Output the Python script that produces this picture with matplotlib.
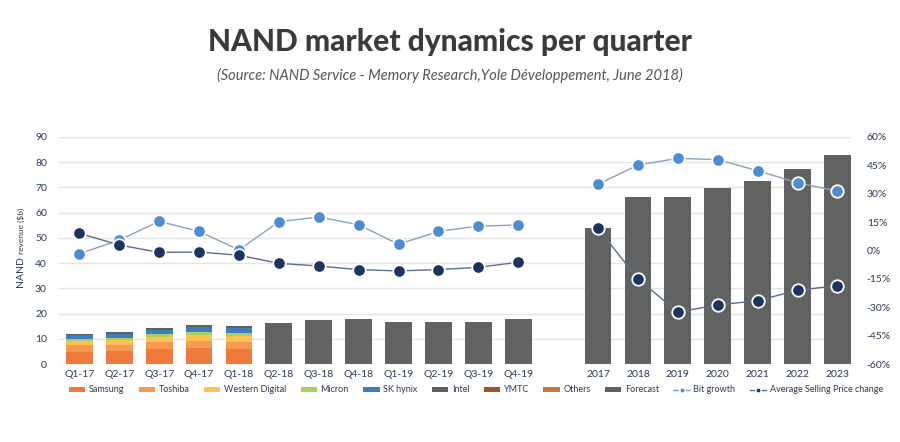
import matplotlib
matplotlib.use('Agg')
import matplotlib.pyplot as plt
import numpy as np
from matplotlib.lines import Line2D
from matplotlib.patches import Patch

# ---------------- data ----------------
quarters = ['Q1-17', 'Q2-17', 'Q3-17', 'Q4-17', 'Q1-18', 'Q2-18', 'Q3-18',
            'Q4-18', 'Q1-19', 'Q2-19', 'Q3-19', 'Q4-19']
years = ['2017', '2018', '2019', '2020', '2021', '2022', '2023']

# actual quarters (Q1-17 .. Q1-18), stacked by supplier ($b)
samsung = [4.9, 5.2, 5.8, 6.3, 6.0]
toshiba = [2.5, 2.5, 2.8, 3.0, 2.9]
western_digital = [1.7, 1.8, 2.0, 2.2, 2.1]
micron = [0.9, 1.0, 1.2, 1.3, 1.4]
sk_hynix = [1.3, 1.4, 1.7, 1.8, 1.7]
intel = [0.5, 0.6, 0.7, 0.9, 0.9]
ymtc = [0.0, 0.0, 0.0, 0.0, 0.0]
others = [0.1, 0.1, 0.1, 0.1, 0.1]

# forecast revenue ($b)
forecast_quarters = [16.3, 17.5, 17.9, 16.7, 16.6, 16.8, 17.7]   # Q2-18 .. Q4-19
forecast_years = [53.8, 66.3, 66.3, 69.6, 72.6, 77.5, 82.7]      # 2017 .. 2023

# growth rates (%)
bit_growth_q = [-1.7, 5.5, 15.4, 10.1, 0.3, 15.2, 17.7, 13.6, 3.3, 10.1, 12.9, 13.5]
asp_change_q = [9.1, 2.9, -1.0, -0.8, -2.5, -6.8, -8.2, -10.1, -10.8, -10.1, -8.9, -6.2]
bit_growth_y = [35.0, 45.2, 48.7, 48.0, 42.2, 35.8, 31.4]
asp_change_y = [11.7, -15.1, -32.5, -28.8, -26.5, -21.0, -18.6]

supplier_names = ['Samsung', 'Toshiba', 'Western Digital', 'Micron', 'SK hynix',
                  'Intel', 'YMTC', 'Others']
supplier_colors = ['#EF7A3C', '#F49A52', '#FDC250', '#A9CF5F', '#3F7DC1',
                   '#5F5F5F', '#A4532B', '#C87B30']
forecast_color = '#616262'
bit_color = '#4A8FD4'
asp_color = '#1C3461'
text_color = '#2B3A55'

# ---------------- layout ----------------
plt.rcParams['font.family'] = ['Lato', 'DejaVu Sans']
fig = plt.figure(figsize=(9, 4.42), dpi=100)
W, H = 900, 442
ax = fig.add_axes([59.4 / W, 78 / H, 792 / W, 227 / H])

n_q = len(quarters)
x_q = np.arange(n_q)
x_y = np.arange(len(years)) + n_q + 1
labels = quarters + [''] + years
x_all = np.arange(len(labels))

bw = 0.67
n_act = len(samsung)
stacks = [samsung, toshiba, western_digital, micron, sk_hynix, intel, ymtc, others]
bottom = np.zeros(n_act)
for vals, col in zip(stacks, supplier_colors):
    ax.bar(x_q[:n_act], vals, bw, bottom=bottom, color=col, zorder=2, linewidth=0)
    bottom += np.array(vals)
ax.bar(x_q[n_act:], forecast_quarters, bw, color=forecast_color, zorder=2, linewidth=0)
ax.bar(x_y, forecast_years, bw, color=forecast_color, zorder=2, linewidth=0)

ax.set_xlim(-0.5, 19.35)
ax.set_ylim(0, 90)
ax.set_yticks(np.arange(0, 91, 10))
ax.set_xticks(x_all)
ax.set_xticklabels(labels)
ax.grid(axis='y', color='#E4E4E4', linewidth=1, zorder=0)
ax.set_axisbelow(True)
for s in ax.spines.values():
    s.set_visible(False)
ax.tick_params(axis='both', length=0, colors=text_color, labelsize=7.5)
ax.tick_params(axis='y', pad=9)
ax.tick_params(axis='x', pad=4)

ax2 = ax.twinx()
ax2.set_ylim(-60, 60)
ax2.set_yticks(np.arange(-60, 61, 15))
ax2.set_yticklabels([f'{v}%' for v in range(-60, 61, 15)])
for s in ax2.spines.values():
    s.set_visible(False)
ax2.tick_params(axis='y', length=0, colors=text_color, labelsize=7.5, pad=11)

bit_all = bit_growth_q + [np.nan] + bit_growth_y
asp_all = asp_change_q + [np.nan] + asp_change_y
ax2.plot(x_all, bit_all, color='#8AA1C0', linewidth=1, zorder=3)
ax2.plot(x_all, asp_all, color='#5A6D8A', linewidth=1, zorder=3)
ax2.plot(x_all, bit_all, linestyle='none', marker='o', markersize=9,
         markerfacecolor=bit_color, markeredgecolor='white', markeredgewidth=1.3, zorder=4)
ax2.plot(x_all, asp_all, linestyle='none', marker='o', markersize=9,
         markerfacecolor=asp_color, markeredgecolor='white', markeredgewidth=1.3, zorder=5)

# y label: "NAND" larger, "revenue ($b)" smaller
t1 = fig.text(20.5 / W, 1 - 287 / H, 'NAND', rotation=90, ha='center', va='bottom',
              fontsize=7.5, color=text_color)
fig.canvas.draw()
bb = t1.get_window_extent(renderer=fig.canvas.get_renderer())
fig.text(21.5 / W, (bb.y1 + 2) / H, 'revenue ($b)', rotation=90, ha='center', va='bottom',
         fontsize=6, color=text_color)

# title
fig.text(0.5, 1 - 42 / H, 'NAND market dynamics per quarter', ha='center', va='center',
         fontsize=21.5, weight='black', color='#3B3B3B')
fig.text(0.5, 1 - 75 / H,
         '(Source: NAND Service - Memory Research,Yole Développement, June 2018)',
         ha='center', va='center', fontsize=10.5, style='italic', weight='normal',
         color='#555555')

# legend
handles = [Patch(facecolor=c, edgecolor='none') for c in supplier_colors]
handles.append(Patch(facecolor=forecast_color, edgecolor='none'))
handles.append(Line2D([], [], color='#8AA1C0', lw=1, marker='o', markersize=4,
                      markerfacecolor=bit_color, markeredgecolor='white', markeredgewidth=1.2))
handles.append(Line2D([], [], color='#5A6D8A', lw=1, marker='o', markersize=4,
                      markerfacecolor=asp_color, markeredgecolor='white', markeredgewidth=1.2))
leg_labels = supplier_names + ['Forecast', 'Bit growth', 'Average Selling Price change']
fig.legend(handles, leg_labels, loc='center', bbox_to_anchor=(476 / W, 1 - 390 / H),
           ncol=11, frameon=False, fontsize=6.5, handlelength=1.8, handleheight=0.5,
           columnspacing=1.6, handletextpad=0.4, labelcolor=text_color)

fig.savefig('out.png', dpi=100, facecolor='white')
